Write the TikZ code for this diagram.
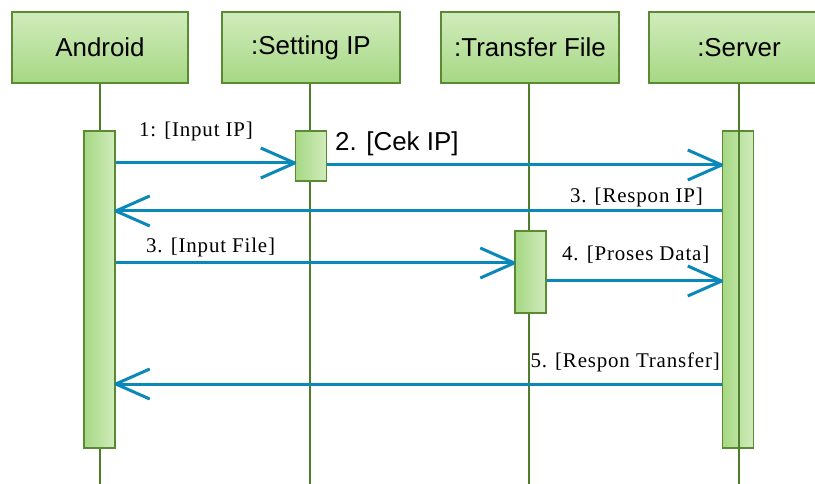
\documentclass[tikz,border=0pt]{standalone}
\usepackage{fontspec}
\setmainfont{Liberation Serif}
\newfontfamily\hdrfont{Liberation Sans}
\newfontfamily\lblfont[LetterSpace=4]{Liberation Serif}
\usetikzlibrary{arrows.meta}
\definecolor{glight}{HTML}{D1EBBC}
\definecolor{gdark}{HTML}{A6D884}
\definecolor{gborder}{HTML}{5A8A32}
\definecolor{lline}{HTML}{4E7E2A}
\definecolor{ablue}{HTML}{0A88B9}
\pgfdeclarearrow{
  name=OpenV,
  defaults={length=34bp, width=30bp},
  parameters={\the\pgfarrowlength,\the\pgfarrowwidth},
  setup code={
    \pgfarrowssettipend{0pt}
    \pgfarrowssetlineend{-1pt}
    \pgfarrowssavethe\pgfarrowlength
    \pgfarrowssavethe\pgfarrowwidth
  },
  drawing code={
    \pgfsetdash{}{0pt}
    \pgfsetroundjoin
    \pgfsetbuttcap
    \pgfpathmoveto{\pgfqpoint{-\pgfarrowlength}{.5\pgfarrowwidth}}
    \pgfpathlineto{\pgfqpoint{0pt}{0pt}}
    \pgfpathlineto{\pgfqpoint{-\pgfarrowlength}{-.5\pgfarrowwidth}}
    \pgfusepathqstroke
  }
}
\begin{document}
\begin{tikzpicture}[x=1bp,y=-1bp,
  head/.style={draw=gborder, line width=1.5bp, top color=glight, bottom color=gdark,
    minimum width=178bp, minimum height=71bp, inner sep=0pt, font=\hdrfont\fontsize{26}{26}\selectfont},
  act/.style={draw=gborder, line width=1.5bp, left color=gdark, right color=glight,
    inner sep=0pt, minimum width=31bp},
  life/.style={draw=lline, line width=1.5bp},
  msg/.style={draw=ablue, line width=3bp, -{OpenV[length=34bp,width=30bp]}},
  lbl/.style={font=\lblfont\fontsize{21}{21}\selectfont, inner sep=0pt, text=black}
]
\clip (0,0) rectangle (815,484);
% headers
\node[head, minimum width=176bp] (android) at (100,47.5) {Android};
\node[head] (setting) at (311,47.5) {:Setting IP};
\node[head] (transfer) at (530,47.5) {:Transfer File};
\node[head, minimum width=180bp] (server) at (739,47.5) {:Server};
% lifeline ends
\coordinate (aend) at (100,484);
\coordinate (send) at (310,484);
\coordinate (tend) at (529,484);
\coordinate (vend) at (739,484);
\draw[life] (android.south -| aend) -- (aend);
\draw[life] (setting.south -| send) -- (send);
\draw[life] (transfer.south -| tend) -- (tend);
% activations
\node[act, minimum height=317bp] (andact) at (99.5,289.5) {};
\node[act, minimum height=50bp] (setact) at (311,156) {};
\node[act, minimum height=82bp] (trfact) at (530.5,272) {};
\node[act, minimum height=317bp] (srvact) at (738,289.5) {};
\draw[life] (server.south -| vend) -- (vend);
% messages
\draw[msg] (andact.east |- 0,163) -- (setact.west |- 0,163);
\draw[msg] (setact.east |- 0,165) -- (srvact.west |- 0,165);
\draw[msg] (srvact.west |- 0,211) -- (andact.east |- 0,211);
\draw[msg] (andact.east |- 0,263) -- (trfact.west |- 0,263);
\draw[msg] (trfact.east |- 0,281) -- (srvact.west |- 0,281);
\draw[msg] (srvact.west |- 0,384) -- (andact.east |- 0,384);
% labels
\node[lbl, anchor=base] (l1) at (196,137) {1: [Input IP]};
\node[lbl, anchor=base west, font=\hdrfont\fontsize{26}{26}\selectfont] (l2) at (335,151) {2. [Cek IP]};
\node[lbl, anchor=base east] (l3) at (703,203) {3. [Respon IP]};
\node[lbl, anchor=base west] (l4) at (146,253) {3. [Input File]};
\node[lbl, anchor=base west] (l5) at (562,261) {4. [Proses Data]};
\node[lbl, anchor=base east] (l6) at (720,367) {5. [Respon Transfer]};
\end{tikzpicture}
\end{document}
